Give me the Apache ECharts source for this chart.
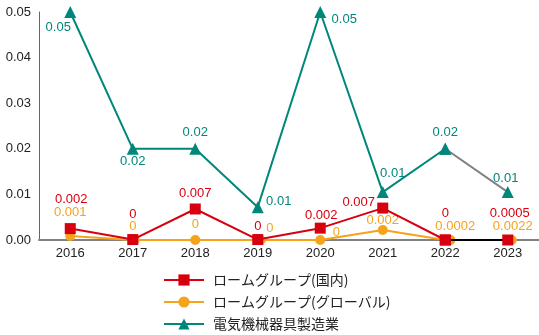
<!DOCTYPE html>
<html><head><meta charset="utf-8">
<script src="https://cdn.jsdelivr.net/npm/echarts@6/dist/echarts.min.js"></script>
<style>html,body{margin:0;padding:0;background:#fff}#c{width:539px;height:335px}</style>
</head><body><div id="c"></div>
<script>
const years = ['2016','2017','2018','2019','2020','2021','2022','2023'];
const seriesNames = ['ロームグループ(国内)','ロームグループ(グローバル)','電気機械器具製造業'];
const domestic = [0.0025, 0.0001, 0.0068, 0.0001, 0.0026, 0.007, 0, 0];
const domesticLabels = ['0.002','0','0.007','0','0.002','0.007','0','0.0005'];
const global = [0.0009, 0, 0, 0, 0, 0.0022, 0, 0];
const globalLabels = ['0.001','0','0','0','0','0.002','0.0002','0.0022'];
const industry = [0.05, 0.02, 0.02, 0.0072, 0.05, 0.0105, 0.02, 0.0105];
const industryLabels = ['0.05','0.02','0.02','0.01','0.05','0.01','0.02','0.01'];
const yTicks = [0, 0.01, 0.02, 0.03, 0.04, 0.05];

// styling (label offsets relative to marker)
const domOff = [[1,-29],[0,-25],[0,-16],[0,-13],[1,-13],[-24,-6],[0,-27],[2,-27]];
const gloOff = [[0,-23],[-2,-14],[0,-16],[9,-12],[16,-8],[0,-10],[5,-14],[1,-14]];
const gloSym = [[0,0],[2,0],[0,0],[3,0],[0,0],[0,0],[5,0],[4,0]];
const indOff = [[-12,15],[0,13],[0,-16],[21,-6],[24,7],[10,-19],[0,-16],[-2,-14]];

const RED='#d7000f', ORA='#f5a31a', TEAL='#00877a';
const FONT='"Liberation Sans", Arial, "Noto Sans CJK JP", sans-serif';
const lastIdx = years.length - 1;

function items(vals, labels, offs, part, symOff){
  return vals.map((v,i)=>{
    const inPart = part==='main' ? i < lastIdx : i >= lastIdx-1;
    if(!inPart) return null;
    const showLbl = part==='main' ? true : i===lastIdx;
    const it = {value: v, label: {show: showLbl, formatter: labels[i], offset: offs[i]}};
    if(symOff) it.symbolOffset = symOff[i];
    return it;
  });
}
function mk(name, vals, labels, offs, color, symbol, size, part, lineColor, symOff, z){
  return {
    type:'line', name, z,
    data: items(vals, labels, offs, part, symOff),
    symbol, symbolSize: size, showSymbol:true,
    connectNulls:false,
    itemStyle:{color, opacity:1},
    lineStyle:{color: lineColor, width:2},
    label:{show:true, position:'inside', color, fontSize:13, fontFamily:FONT},
    emphasis:{disabled:true},
    animation:false
  };
}

const series = [
  mk(seriesNames[2], industry, industryLabels, indOff, TEAL, 'triangle', 12, 'main', TEAL, null, 2),
  mk(seriesNames[2], industry, industryLabels, indOff, TEAL, 'triangle', 12, 'tail', '#808080', null, 2),
  mk(seriesNames[1], global, globalLabels, gloOff, ORA, 'circle', 10, 'main', ORA, gloSym, 3),
  mk(seriesNames[1], global, globalLabels, gloOff, ORA, 'circle', 10, 'tail', '#000', gloSym, 3),
  mk(seriesNames[0], domestic, domesticLabels, domOff, RED, 'rect', 11, 'main', RED, null, 4),
  mk(seriesNames[0], domestic, domesticLabels, domOff, RED, 'rect', 11, 'tail', '#000', null, 4)
];

const chart = echarts.init(document.getElementById('c'), null, {renderer:'canvas'});
chart.setOption({
  animation:false,
  grid:{left:39, top:12, right:0, bottom:95, containLabel:false},
  xAxis:{type:'category', data:years, boundaryGap:true,
    axisLine:{lineStyle:{color:'#808080', width:2}},
    axisTick:{show:false},
    axisLabel:{color:'#222', fontSize:13, fontFamily:FONT, margin:7}},
  yAxis:{type:'value', min:yTicks[0], max:yTicks[yTicks.length-1], interval:0.01,
    axisLine:{show:true, lineStyle:{color:'#666', width:1}},
    axisTick:{show:false}, splitLine:{show:false},
    axisLabel:{color:'#222', fontSize:13, fontFamily:FONT, margin:8,
      formatter:v=>v.toFixed(2)}},
  legend:{orient:'vertical', left:163, top:273, height:62, padding:0, itemWidth:40, itemHeight:14, itemGap:8,
    data:[seriesNames[0], seriesNames[1], seriesNames[2]],
    textStyle:{color:'#222', fontSize:14, lineHeight:14, fontFamily:'"Noto Sans CJK JP", sans-serif', padding:[0,0,0,4]},
    selectedMode:false},
  series
});
</script></body></html>
